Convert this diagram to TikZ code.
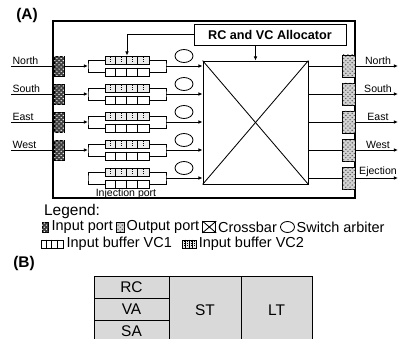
\documentclass[tikz,border=0pt]{standalone}
\usepackage{fontspec}
\setmainfont{Liberation Sans}
\usetikzlibrary{arrows.meta, positioning, patterns, shapes.geometric}

\begin{document}
\begin{tikzpicture}[
    x=0.25mm, y=-0.25mm, line width=0.6pt,
    frame/.style={draw, line width=0.8pt, inner sep=0pt, minimum width=75.5mm, minimum height=44.25mm},
    allocbox/.style={draw, inner sep=0pt, minimum width=38mm, minimum height=5.25mm, font=\bfseries\fontsize{9}{10}\selectfont},
    xbarbox/.style={draw, inner sep=0pt, minimum width=26.25mm, minimum height=30.75mm},
    inport/.style={draw, inner sep=0pt, fill=black!75, postaction={pattern=crosshatch dots, pattern color=white}, minimum width=2.5mm, minimum height=5mm},
    outport/.style={draw, inner sep=0pt, fill=gray!35, postaction={pattern=crosshatch dots, pattern color=black!70}, minimum width=3.25mm, minimum height=5.5mm},
    vcone/.style={draw, inner sep=0pt, fill=white, minimum width=11mm, minimum height=2mm},
    vctwo/.style={vcone, fill=gray!15},
    arbiter/.style={draw, ellipse, inner sep=0pt, minimum width=4.5mm, minimum height=3.25mm},
    dirlabel/.style={inner sep=0.8pt, font=\fontsize{7.5}{8}\selectfont},
    keytext/.style={inner sep=1pt, font=\fontsize{10.3}{12}\selectfont},
    stage/.style={draw, fill=gray!30, inner sep=0pt, font=\fontsize{11}{12}\selectfont},
    arrow/.style={-{Latex[length=3pt, width=2.6pt]}}
]
    \useasboundingbox (0,0) rectangle (399,339);

    \node[font=\bfseries\fontsize{11}{12}\selectfont] (parta) at (27,16) {(A)};

    % Router outline with allocator and crossbar.
    \node[frame]    (router) at (204,109.5) {};
    \node[allocbox] (alloc)  at (270,34.5) {RC and VC Allocator};
    \node[xbarbox]  (xbar)   at (255.5,122.5) {};
    \draw (xbar.north west) -- (xbar.south east) (xbar.north east) -- (xbar.south west);

    % One row per port: buffers, arbiter, output port.
    \foreach \r/\dir [count=\i] in {66/North, 94/South, 122/East, 150/West, 178/Ejection} {
        \node[vctwo] (vctwo\i) at (127,\r-6) {};
        \node[vcone] (vcone\i) at (127,\r+6) {};
        \foreach \k in {1,2,3} {
            \draw (vctwo\i.north west) ++(11*\k,0) -- ++(0,8);
            \draw (vcone\i.north west) ++(11*\k,0) -- ++(0,8);
        }
        \foreach \k in {0,...,3}
            \draw[densely dotted, line width=0.4pt] (vctwo\i.north west) ++(5.5+11*\k,1.5) -- ++(0,5);
        \coordinate (join\i) at (88,\r);
        \coordinate (merge\i) at (166,\r);
        \draw (vctwo\i.west) -| (join\i) |- (vcone\i.west);
        \draw (vctwo\i.east) -| (merge\i) |- (vcone\i.east);
        \draw[arrow] (merge\i) -- (xbar.west |- merge\i);
        \node[arbiter] (arb\i) at (184,\r-10) {};

        \node[outport] (outport\i) at (348.5,\r) {};
        \draw (xbar.east |- outport\i.west) -- (outport\i.west);
        \coordinate (dst\i) at (398,\r);
        \draw[arrow] (outport\i.east) -- (dst\i);
        \node[dirlabel, anchor=south] (outlabel\i) at (378,\r) {\dir};

        \ifnum\i<5
            \coordinate (src\i) at (11,\r);
            \draw[arrow] (src\i) -- (join\i);
            \node[inport] (inport\i) at (59,\r) {};
            \node[dirlabel, anchor=south west] (inlabel\i) at (11,\r) {\dir};
        \fi
    }
    \node[inner sep=0pt, font=\fontsize{7.5}{8}\selectfont] (injlabel) at (126,193.5) {Injection port};

    \draw[arrow] (alloc.west) -| (vctwo1.north);
    \draw[arrow] (alloc.south -| xbar.north) -- (xbar.north);

    % Legend.
    \node[anchor=west, font=\fontsize{11}{12}\selectfont] (legend) at (39,212) {Legend:};
    \node[inport, minimum width=1.5mm, minimum height=2.5mm] (keyin) at (45,227) {};
    \node[keytext, right=1pt of keyin] (keyintext) {Input port};
    \node[outport, minimum width=2mm, minimum height=2.5mm, right=1pt of keyintext] (keyout) {};
    \node[keytext, right=0pt of keyout] (keyouttext) {Output port};
    \node[xbarbox, minimum width=3.25mm, minimum height=2.75mm, right=1pt of keyouttext] (keyxbar) {};
    \draw (keyxbar.north west) -- (keyxbar.south east) (keyxbar.north east) -- (keyxbar.south west);
    \node[keytext, right=0pt of keyxbar] (keyxbartext) {Crossbar};
    \node[arbiter, minimum width=3.5mm, minimum height=2.75mm, right=1pt of keyxbartext] (keyarb) {};
    \node[keytext, right=0pt of keyarb] (keyarbtext) {Switch arbiter};

    \node[vcone, minimum width=5.5mm] (keyvcone) at (52,244) {};
    \foreach \k in {1,2,3}
        \draw (keyvcone.north west) ++(5.5*\k,0) -- ++(0,8);
    \node[keytext, right=1pt of keyvcone] (keyvconetext) {Input buffer VC1};
    \node[vctwo, minimum width=3.5mm, right=6pt of keyvconetext] (keyvctwo) {};
    \foreach \k in {1,2,3}
        \draw (keyvctwo.north west) ++(3.5*\k,0) -- ++(0,8);
    \foreach \k in {0,...,3}
        \draw[densely dotted, line width=0.4pt] (keyvctwo.north west) ++(1.75+3.5*\k,1.5) -- ++(0,5);
    \node[keytext, right=0pt of keyvctwo] (keyvctwotext) {Input buffer VC2};

    % Pipeline stages.
    \node[font=\bfseries\fontsize{11}{12}\selectfont] (partb) at (24,264) {(B)};
    \node[stage, minimum width=18.75mm, minimum height=5.5mm]  (rc) at (131.5,287)   {RC};
    \node[stage, minimum width=18.75mm, minimum height=5.5mm]  (va) at (131.5,309)   {VA};
    \node[stage, minimum width=18.75mm, minimum height=5.5mm]  (sa) at (131.5,331)   {SA};
    \node[stage, minimum width=18mm, minimum height=17mm]      (st) at (205,310)     {ST};
    \node[stage, minimum width=17.75mm, minimum height=17mm]   (lt) at (276.5,310)   {LT};
\end{tikzpicture}
\end{document}
